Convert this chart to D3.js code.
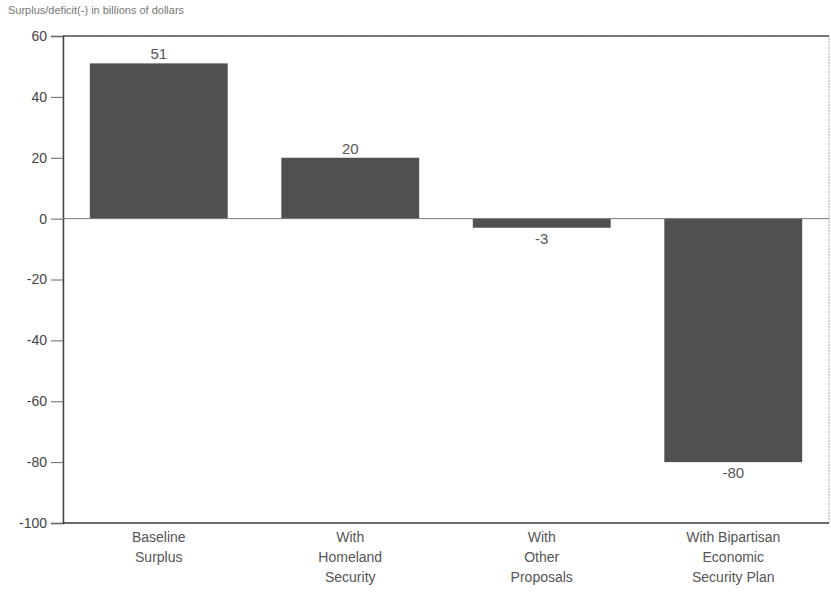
<!DOCTYPE html>
<html>
<head>
<meta charset="utf-8">
<script src="https://cdn.jsdelivr.net/npm/d3@7"></script>
<style>
  html, body { margin: 0; padding: 0; background: #fff; overflow: hidden; }
  svg { display: block; }
  svg text { font-family: "Liberation Sans", Arial, sans-serif; }
</style>
</head>
<body>
<div id="chart"></div>
<script>
const categories = [
  ["Baseline", "Surplus"],
  ["With", "Homeland", "Security"],
  ["With", "Other", "Proposals"],
  ["With Bipartisan", "Economic", "Security Plan"]
];
const values = [51, 20, -3, -80];
const yTicks = [60, 40, 20, 0, -20, -40, -60, -80, -100];

const width = 831, height = 592;
const margin = { top: 36, right: 2, bottom: 69, left: 63 };
const innerWidth = width - margin.left - margin.right,
      innerHeight = height - margin.top - margin.bottom;

const svg = d3.select("#chart").append("svg")
  .attr("width", width)
  .attr("height", height);

svg.append("text")
  .attr("x", 8)
  .attr("y", 14)
  .attr("font-size", 11)
  .attr("fill", "#777")
  .text("Surplus/deficit(-) in billions of dollars");

const g = svg.append("g")
  .attr("transform", `translate(${margin.left},${margin.top})`);

const x = d3.scaleBand()
  .domain(d3.range(categories.length))
  .range([0, innerWidth])
  .paddingInner(0.28)
  .paddingOuter(0.14);

const y = d3.scaleLinear()
  .domain([-100, 60])
  .range([innerHeight, 0]);

// frame
g.append("rect")
  .attr("width", innerWidth)
  .attr("height", innerHeight)
  .attr("fill", "none")
  .attr("stroke", "#aaa")
  .attr("stroke-width", 1)
  .attr("stroke-dasharray", "2,1");

g.append("line")
  .attr("x1", 0).attr("x2", innerWidth)
  .attr("y1", 0).attr("y2", 0)
  .attr("stroke", "#555").attr("stroke-width", 1.5);

g.append("line")
  .attr("x1", 0).attr("x2", innerWidth)
  .attr("y1", innerHeight).attr("y2", innerHeight)
  .attr("stroke", "#444").attr("stroke-width", 1.5);

// y axis
const yAxis = g.append("g")
  .call(d3.axisLeft(y).tickValues(yTicks).tickFormat(d => String(d)).tickSize(12).tickPadding(4));
yAxis.select(".domain").attr("stroke", "#444").attr("stroke-width", 1.5);
yAxis.selectAll(".tick line").attr("stroke", "#666");
yAxis.selectAll("text")
  .attr("font-size", 14)
  .attr("fill", "#444")
  .style("font-family", "Liberation Sans, Arial, sans-serif");

// bars
g.selectAll(".bar")
  .data(values)
  .join("rect")
  .attr("class", "bar")
  .attr("x", (d, i) => x(i))
  .attr("width", x.bandwidth())
  .attr("y", d => y(Math.max(0, d)))
  .attr("height", d => Math.abs(y(d) - y(0)))
  .attr("fill", "#505050");

// zero line
g.append("line")
  .attr("x1", 0).attr("x2", innerWidth)
  .attr("y1", y(0)).attr("y2", y(0))
  .attr("stroke", "#777").attr("stroke-width", 1);

// value labels
g.selectAll(".val")
  .data(values)
  .join("text")
  .attr("class", "val")
  .attr("x", (d, i) => x(i) + x.bandwidth() / 2)
  .attr("y", d => d >= 0 ? y(d) - 4 : y(d) + 16)
  .attr("text-anchor", "middle")
  .attr("font-size", 15)
  .attr("fill", "#555")
  .text(d => String(d));

// category labels, one text per line
const catLines = categories.flatMap((lines, i) => lines.map((t, j) => ({ i, j, t })));
g.selectAll(".cat")
  .data(catLines)
  .join("text")
  .attr("class", "cat")
  .attr("text-anchor", "middle")
  .attr("font-size", 14)
  .attr("fill", "#555")
  .attr("x", d => x(d.i) + x.bandwidth() / 2)
  .attr("y", d => innerHeight + 19 + d.j * 20)
  .text(d => d.t);
</script>
</body>
</html>
